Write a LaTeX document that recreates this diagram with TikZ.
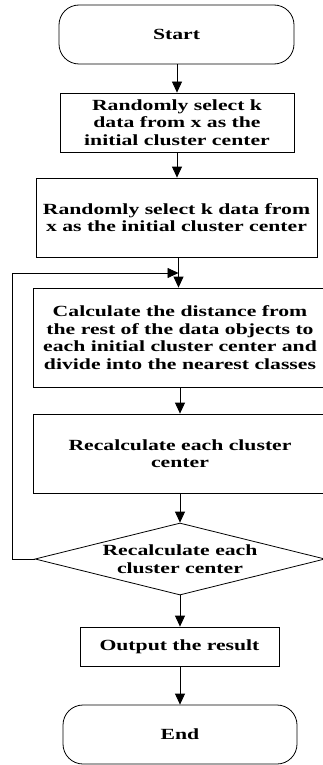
\documentclass[tikz,border=0pt]{standalone}
\usepackage{fontspec}
\usepackage{tikz}
\usetikzlibrary{arrows.meta}
\usetikzlibrary{shapes.geometric}

\newfontfamily\flowfont{Liberation Serif}[FakeStretch=1.4]

\tikzset{
    flowtext/.style={font=\flowfont\bfseries\fontsize{15.5}{17.5}\selectfont, align=center, inner sep=0pt},
    terminal/.style={flowtext, draw, line width=0.8pt, rounded corners=20pt},
    process/.style={flowtext, draw, line width=0.8pt},
    decision/.style={flowtext, draw, line width=0.8pt, diamond, aspect=4},
    flowarrow/.style={line width=0.8pt, -{Triangle[length=11pt,width=10pt]}}
}

\begin{document}
\begin{tikzpicture}[x=1pt,y=1pt]
            % Canvas of the figure
            \useasboundingbox (0,0) rectangle (322,-765);

            % Centres of the steps
            \coordinate (Cstart) at (176.5,-34.5);
            \coordinate (Csel1) at (177,-122.5);
            \coordinate (Csel2) at (176.5,-217.5);
            \coordinate (Cdist) at (180,-337.5);
            \coordinate (Crecalc) at (180,-453.5);
            \coordinate (Ccheck) at (180,-559);
            \coordinate (Cout) at (179.5,-646.5);
            \coordinate (Cend) at (180,-734.5);

            % Draw the steps
            \node[terminal, minimum width=235pt, minimum height=59pt] (start) at (Cstart) {Start};
            \node[process, minimum width=234pt, minimum height=59pt] (sel1) at (Csel1)
                {Randomly select k\\data from x as the\\initial cluster center};
            \node[process, minimum width=281pt, minimum height=79pt] (sel2) at (Csel2)
                {Randomly select k data from\\x as the initial cluster center};
            \node[process, minimum width=294pt, minimum height=99pt] (dist) at (Cdist)
                {Calculate the distance from\\the rest of the data objects to\\each initial cluster center and\\divide into the nearest classes};
            \node[process, minimum width=294pt, minimum height=79pt] (recalc) at (Crecalc)
                {Recalculate each cluster\\center};
            \node[decision, minimum width=290pt, minimum height=72pt] (check) at (Ccheck)
                {Recalculate each\\cluster center};
            \node[process, minimum width=199pt, minimum height=39pt] (out) at (Cout) {Output the result};
            \node[terminal, minimum width=234pt, minimum height=59pt] (end) at (Cend) {End};

            % Loop back points
            \coordinate (L1) at (12,-559);
            \coordinate (L2) at (12,-273);
            \coordinate (L3) at (178.5,-273);

            % Draw the arrows
            \draw[flowarrow] (start.south -| sel1) -- (sel1.north);
            \draw[flowarrow] (sel1.south) -- (sel1.south |- sel2.north);
            \draw[flowarrow] (sel2.south -| L3) -- (L3 |- dist.north);
            \draw[flowarrow] (dist.south) -- (recalc.north);
            \draw[flowarrow] (recalc.south) -- (check.north);
            \draw[flowarrow] (check.south) -- (out.north -| check);
            \draw[flowarrow] (out.south -| end) -- (end.north);
            \draw[flowarrow] (check.west) -- (L1) -- (L2) -- (L3);

        \end{tikzpicture}
\end{document}
